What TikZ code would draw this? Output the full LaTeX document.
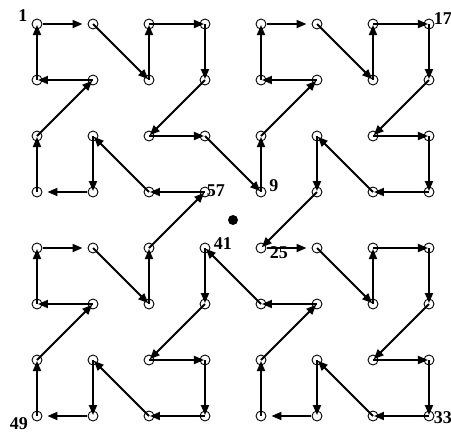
\documentclass[tikz,border=0pt]{standalone}
\usepackage{fontspec}
\setmainfont{Liberation Serif}
\usepackage{tikz}
\usetikzlibrary{calc,arrows.meta,positioning}

\tikzset{
    site/.style={circle, draw, line width=0.9pt, inner sep=0pt, minimum size=10pt},
    link/.style={line width=1.8pt, -{Triangle[length=10pt, width=8pt]}, shorten >=1pt},
    gaplink/.style={line width=1.8pt, -{Triangle[length=10pt, width=8pt]}, shorten <=1pt, shorten >=5pt},
    num/.style={font=\fontsize{18}{18}\selectfont\bfseries, inner sep=0pt},
}

\begin{document}
\begin{tikzpicture}[x=56pt, y=-56pt]
    \useasboundingbox (-0.6607,-0.4286) rectangle (7.393,7.3036);
    % grid of sites, named p<col><row>
    \foreach \c in {0,...,7} {
        \foreach \r in {0,...,7} {
            \node[site] (p\c\r) at (\c,\r) {};
        }
    }
    % the closed scan path, centre to centre
    \foreach \s/\t in {10/21, 21/20, 20/30,
        30/31, 31/22, 22/32, 32/43,
        43/42, 42/51, 51/41, 41/40,
        50/61, 61/60, 60/70,
        70/71, 71/62, 62/72, 72/73,
        73/63, 63/52, 52/53, 53/44,
        54/65, 65/64, 64/74,
        74/75, 75/66, 66/76, 76/77,
        77/67, 67/56, 56/57,
        47/46, 46/55, 55/45, 45/34,
        34/35, 35/26, 26/36, 36/37,
        37/27, 27/16, 16/17,
        07/06, 06/15, 15/05, 05/04,
        14/25, 25/24, 24/33,
        33/23, 23/12, 12/13,
        03/02, 02/11, 11/01, 01/00} {
        \draw[link] (p\s.center) -- (p\t.center);
    }
    % short steps that stop clear of the circles
    \foreach \s/\t in {00/10, 40/50, 44/54, 57/47, 17/07, 04/14, 13/03} {
        \draw[gaplink] (p\s) -- (p\t);
    }
    % centre
    \fill (3.5,3.5) circle (5pt);
    % step numbers
    \node[num] (n1)  at ($(p00)+(-14pt,8pt)$) {1};
    \node[num] (n9)  at ($(p43)+(13pt,6pt)$) {9};
    \node[num] (n17) at ($(p70)+(14pt,5pt)$) {17};
    \node[num] (n25) at ($(p44)+(18pt,-5pt)$) {25};
    \node[num] (n33) at ($(p77)+(14pt,-2pt)$) {33};
    \node[num] (n41) at ($(p34)+(18pt,4pt)$) {41};
    \node[num] (n49) at ($(p07)+(-18pt,-8pt)$) {49};
    \node[num] (n57) at ($(p33)+(11pt,1pt)$) {57};
\end{tikzpicture}
\end{document}
